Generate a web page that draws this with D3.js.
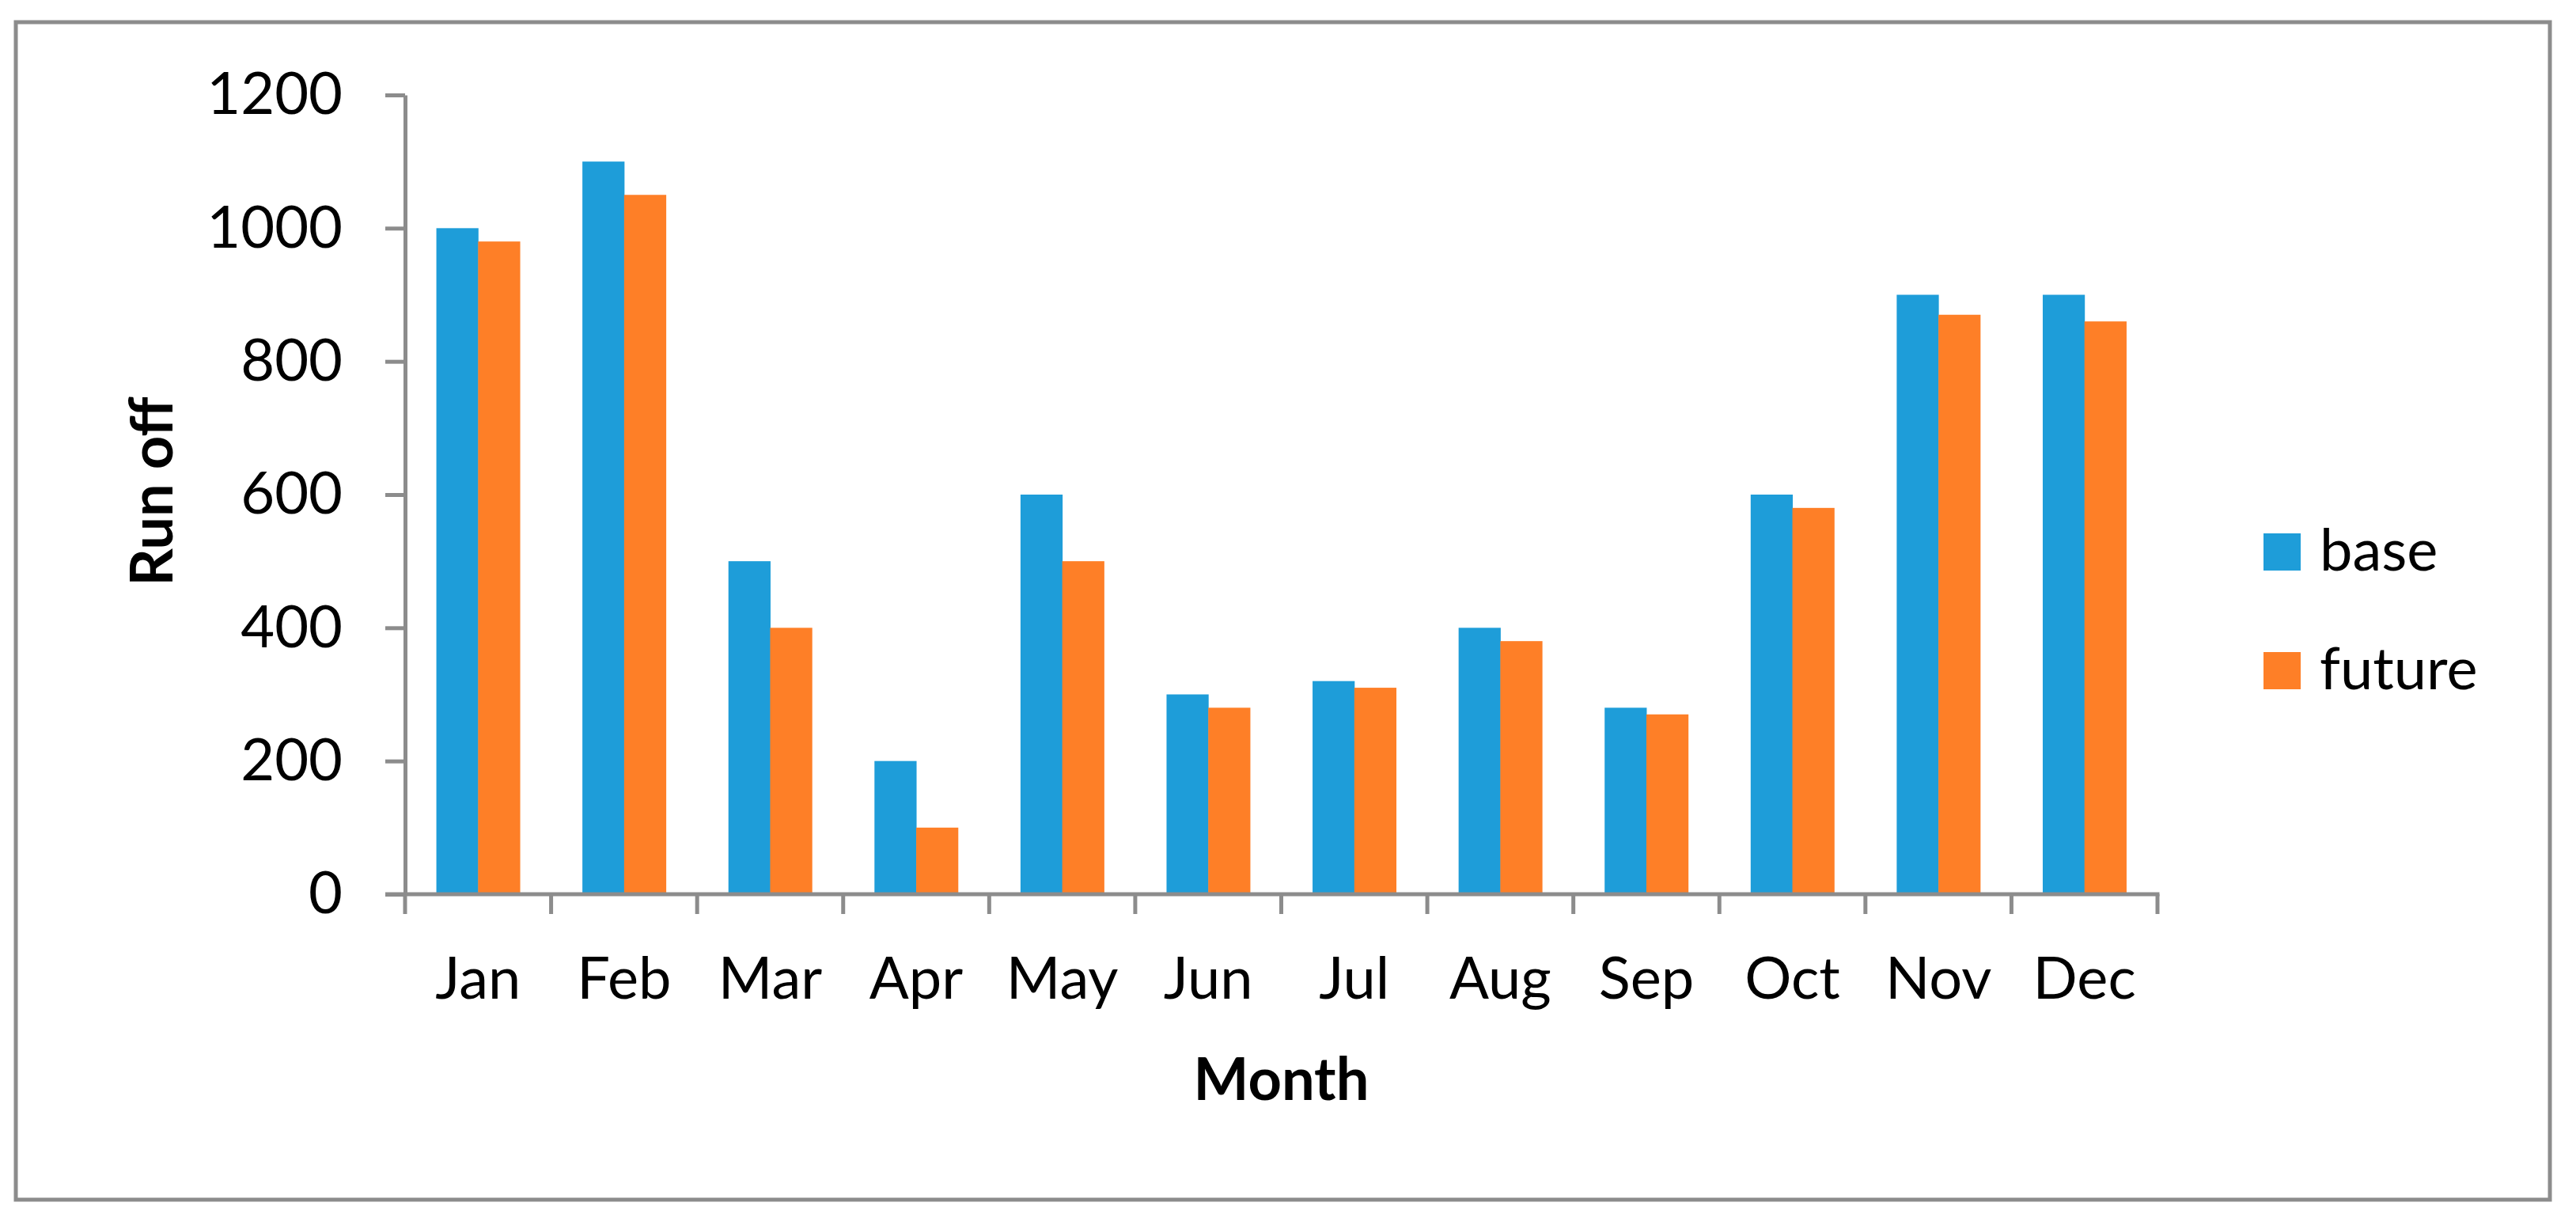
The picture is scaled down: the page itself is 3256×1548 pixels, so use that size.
<!DOCTYPE html>
<html>
<head>
<meta charset="utf-8">
<script src="https://cdn.jsdelivr.net/npm/d3@7"></script>
<style>
  html, body { margin: 0; padding: 0; background: #fff; }
  svg { display: block; }
  text { font-family: Lato, "Open Sans", sans-serif; fill: #000; }
</style>
</head>
<body>
<svg id="chart" width="3256" height="1548"></svg>
<script>
const months = ["Jan","Feb","Mar","Apr","May","Jun","Jul","Aug","Sep","Oct","Nov","Dec"];
const baseValues = [1000,1100,500,200,600,300,320,400,280,600,900,900];
const futureValues = [980,1050,400,100,500,280,310,380,270,580,870,860];
const seriesNames = ["base","future"];
const seriesColors = ["#1E9DD9","#FE7F27"];
const yTicks = [0,200,400,600,800,1000,1200];
const xTitle = "Month";
const yTitle = "Run off";

(function () {
const axisColor = "#8C8C8C";
const svg = d3.select("#chart");

// outer border
svg.append("rect")
  .attr("x", 20).attr("y", 28).attr("width", 3203).attr("height", 1488)
  .attr("fill", "#fff").attr("stroke", axisColor).attr("stroke-width", 5);

const pLeft = 512, pRight = 2727, pTop = 120, pBottom = 1130;
const gapRatio = 1.5 / 3.5;

const x = d3.scaleBand().domain(months).range([pLeft, pRight])
  .paddingInner(gapRatio).paddingOuter(gapRatio / 2);
const xs = d3.scaleBand().domain(seriesNames).range([0, x.bandwidth()]);
const y = d3.scaleLinear().domain([0, 1200]).range([pBottom, pTop]);

const data = months.map((m, i) => ({ month: m, values: [baseValues[i], futureValues[i]] }));

// bars
const groups = svg.append("g").selectAll("g").data(data).join("g")
  .attr("transform", d => `translate(${x(d.month)},0)`);
groups.selectAll("rect").data(d => d.values.map((v, j) => ({ key: seriesNames[j], v, j })))
  .join("rect")
  .attr("x", d => xs(d.key))
  .attr("y", d => y(d.v))
  .attr("width", xs.bandwidth() + 0.5)
  .attr("height", d => y(0) - y(d.v))
  .attr("fill", d => seriesColors[d.j]);

// y axis
const yAxis = d3.axisLeft(y).tickValues(yTicks).tickFormat(d3.format("d"))
  .tickSize(25).tickPadding(54).tickSizeOuter(0);
const gy = svg.append("g").attr("transform", `translate(${pLeft},0)`).call(yAxis);
gy.select(".domain").attr("stroke", axisColor).attr("stroke-width", 5);
gy.selectAll(".tick line").attr("stroke", axisColor).attr("stroke-width", 5);
gy.selectAll(".tick text").attr("font-size", 74).attr("font-family", "Lato").attr("fill", "#000");

// x axis line
svg.append("line")
  .attr("x1", pLeft - 25).attr("x2", pRight + 2.5).attr("y1", pBottom).attr("y2", pBottom)
  .attr("stroke", axisColor).attr("stroke-width", 5);
// boundary ticks
const boundaries = d3.range(months.length + 1).map(i => x.range()[0] + i * x.step());
svg.append("g").selectAll("line").data(boundaries).join("line")
  .attr("x1", d => d).attr("x2", d => d)
  .attr("y1", pBottom).attr("y2", pBottom + 25)
  .attr("stroke", axisColor).attr("stroke-width", 5);
// x labels
svg.append("g").selectAll("text").data(months).join("text")
  .attr("x", d => x(d) + x.bandwidth() / 2)
  .attr("y", 1262)
  .attr("text-anchor", "middle")
  .attr("font-size", 74)
  .text(d => d);

// axis titles
svg.append("text")
  .attr("x", (pLeft + pRight) / 2).attr("y", 1390)
  .attr("text-anchor", "middle").attr("font-size", 74).attr("font-weight", "bold")
  .text(xTitle);
svg.append("text")
  .attr("transform", `translate(218,${(pTop + pBottom) / 2 - 4}) rotate(-90)`)
  .attr("text-anchor", "middle").attr("font-size", 74).attr("font-weight", "bold")
  .text(yTitle);

// legend
const legend = svg.append("g").selectAll("g").data(seriesNames).join("g")
  .attr("transform", (d, i) => `translate(2861,${674 + i * 150})`);
legend.append("rect").attr("width", 47).attr("height", 47)
  .attr("fill", (d, i) => seriesColors[i]);
legend.append("text").attr("x", 71).attr("y", 47).attr("font-size", 74).text(d => d);
})();
</script>
</body>
</html>
